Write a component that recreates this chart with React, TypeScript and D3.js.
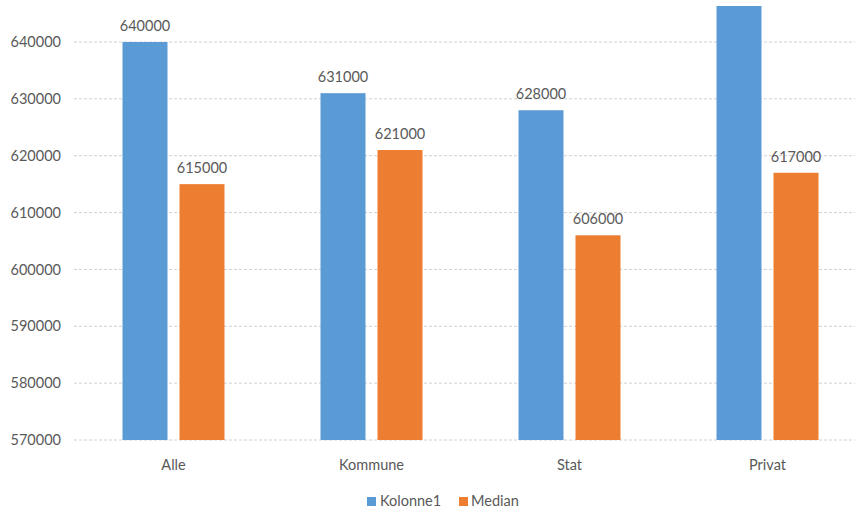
import React from "react";
import * as d3 from "d3";

const categories = ["Alle", "Kommune", "Stat", "Privat"];
const kolonne1 = [640000, 631000, 628000, 652000];
const median = [615000, 621000, 606000, 617000];
const yTicks = [570000, 580000, 590000, 600000, 610000, 620000, 630000, 640000];
const seriesNames = ["Kolonne1", "Median"];
const colors = ["#5B9BD5", "#ED7D31"];

export default function App() {
  const W = 855, H = 508;
  const x = d3.scaleBand<string>().domain(categories).range([74.5, 866.5]);
  const y = d3.scaleLinear().domain([570000, 640000]).range([440, 42]);
  const barW = 45, gap = 12;
  const font = "Lato, 'Open Sans', sans-serif";
  const fs = 14.5;
  const series = [kolonne1, median];
  return (
    <svg width={W} height={H} style={{ position: "absolute", left: 0, top: 0, background: "#fff" }} fontFamily={font}>
      <defs>
        <clipPath id="plot"><rect x={0} y={6} width={W} height={440} /></clipPath>
      </defs>
      {yTicks.map((t) => (
        <g key={t}>
          <line x1={74} x2={W} y1={y(t)} y2={y(t)} stroke="#D0D0D0" strokeWidth={1} strokeDasharray="3,2" />
          <text x={61} y={y(t)} dy="0.35em" textAnchor="end" fontSize={fs} fill="#595959">{t}</text>
        </g>
      ))}
      <g clipPath="url(#plot)">
        {categories.map((c, i) => {
          const cx = x(c)! + x.bandwidth() / 2;
          return series.map((s, j) => {
            const bx = j === 0 ? cx - gap / 2 - barW : cx + gap / 2;
            return (
              <rect key={c + j} x={bx} y={y(s[i])} width={barW} height={y(570000) - y(s[i])} fill={colors[j]} />
            );
          });
        })}
      </g>
      {categories.map((c, i) => {
        const cx = x(c)! + x.bandwidth() / 2;
        return (
          <g key={c}>
            {series.map((s, j) => {
              const bx = j === 0 ? cx - gap / 2 - barW : cx + gap / 2;
              if (y(s[i]) < 20) return null;
              return (
                <text key={j} x={bx + barW / 2} y={y(s[i]) - 11} textAnchor="middle" fontSize={fs} fill="#595959">{s[i]}</text>
              );
            })}
            <text x={cx} y={465} dy="0.35em" textAnchor="middle" fontSize={fs} fill="#595959">{c}</text>
          </g>
        );
      })}
      <g>
        <rect x={367} y={497} width={9} height={9} fill={colors[0]} />
        <text x={380} y={506} fontSize={fs} fill="#595959">{seriesNames[0]}</text>
        <rect x={459} y={497} width={9} height={9} fill={colors[1]} />
        <text x={471} y={506} fontSize={fs} fill="#595959">{seriesNames[1]}</text>
      </g>
    </svg>
  );
}
